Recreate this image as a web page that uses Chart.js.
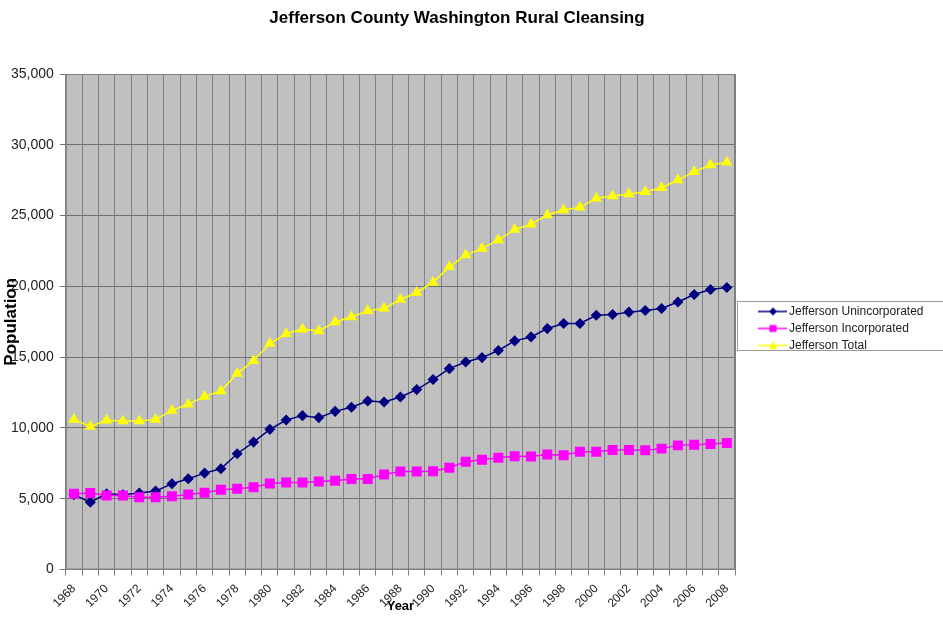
<!DOCTYPE html>
<html>
<head>
<meta charset="utf-8">
<title>Jefferson County Washington Rural Cleansing</title>
<script src="https://cdn.jsdelivr.net/npm/chart.js@4.4.1/dist/chart.umd.min.js"></script>
<style>
  html, body { margin: 0; padding: 0; background: #fff; }
  #wrap { width: 943px; height: 620px; }
</style>
</head>
<body>
<div id="wrap"><canvas id="chart" width="943" height="620"></canvas></div>
<script>
// data
var years = ['1968', '1969', '1970', '1971', '1972', '1973', '1974', '1975', '1976', '1977',
    '1978', '1979', '1980', '1981', '1982', '1983', '1984', '1985', '1986', '1987',
    '1988', '1989', '1990', '1991', '1992', '1993', '1994', '1995', '1996', '1997',
    '1998', '1999', '2000', '2001', '2002', '2003', '2004', '2005', '2006', '2007', '2008'];

var unincorporated = [5280, 4760, 5350, 5280, 5400, 5540, 6060, 6410, 6810, 7120,
    8180, 9000, 9900, 10560, 10870, 10730, 11170, 11460, 11900, 11830,
    12190, 12710, 13420, 14190, 14660, 14970, 15470, 16150, 16430, 17020,
    17380, 17380, 17960, 18010, 18180, 18300, 18440, 18900, 19430, 19780, 19920];

var incorporated = [5350, 5400, 5230, 5230, 5110, 5110, 5180, 5300, 5420, 5630,
    5700, 5820, 6080, 6140, 6150, 6220, 6270, 6390, 6390, 6720,
    6930, 6930, 6950, 7190, 7620, 7760, 7900, 8010, 7990, 8130,
    8080, 8320, 8320, 8440, 8440, 8420, 8540, 8770, 8820, 8860, 8930];

var total = [10590, 10110, 10540, 10490, 10490, 10590, 11240, 11670, 12230, 12610,
    13840, 14750, 15960, 16660, 16980, 16850, 17490, 17840, 18270, 18460,
    19070, 19570, 20280, 21380, 22210, 22680, 23270, 24020, 24380, 25040,
    25390, 25580, 26220, 26380, 26520, 26680, 26970, 27510, 28100, 28570, 28760];

var seriesNames = ['Jefferson Unincorporated', 'Jefferson Incorporated', 'Jefferson Total'];
var yTicks = [0, 5000, 10000, 15000, 20000, 25000, 30000, 35000];

var FONT = 'Arial, "Liberation Sans", sans-serif';

// little line+marker pictures for the legend, excel style
// (blank on the left so the line sits where excel puts it)
function legendMark(color, shape) {
    var c = document.createElement('canvas');
    c.width = 51; c.height = 12;
    var g = c.getContext('2d');
    g.strokeStyle = color;
    g.lineWidth = 1.5;
    g.beginPath(); g.moveTo(22, 6); g.lineTo(51, 6); g.stroke();
    g.fillStyle = color;
    g.beginPath();
    if (shape === 'diamond') {
        g.moveTo(37, 2); g.lineTo(41, 6); g.lineTo(37, 10); g.lineTo(33, 6);
    } else if (shape === 'square') {
        g.rect(33.5, 2.5, 7, 7);
    } else {
        g.moveTo(37, 2); g.lineTo(41, 9.5); g.lineTo(33, 9.5);
    }
    g.closePath(); g.fill();
    return c;
}

var marks = [legendMark('#000080', 'diamond'), legendMark('#ff00ff', 'square'), legendMark('#ffff00', 'triangle')];

var plotArea = {
    id: 'plotArea',
    beforeInit: function (chart) {
        // make the legend a fixed width strip on the right
        var fit = chart.legend.fit;
        chart.legend.fit = function () {
            fit.bind(chart.legend)();
            this.width = 208;
        };
        // excel put the title a bit left of the page centre
        var tdraw = chart.titleBlock.draw;
        chart.titleBlock.draw = function () {
            chart.ctx.save();
            chart.ctx.translate(-17, 0);
            tdraw.apply(this, arguments);
            chart.ctx.restore();
        };
    },
    beforeDraw: function (chart) {
        var a = chart.chartArea, ctx = chart.ctx;
        ctx.save();
        ctx.fillStyle = '#fff';
        ctx.fillRect(0, 0, chart.width, chart.height);
        ctx.fillStyle = '#c0c0c0';
        ctx.fillRect(a.left, a.top, a.right - a.left, a.bottom - a.top);
        ctx.restore();
    },
    afterDatasetsDraw: function (chart) {
        var a = chart.chartArea, ctx = chart.ctx;
        ctx.save();
        ctx.strokeStyle = '#808080';
        ctx.lineWidth = 1;
        ctx.strokeRect(a.left + 0.5, a.top + 0.5, a.right - a.left - 1, a.bottom - a.top - 1);
        // legend frame
        var hb = chart.legend.legendHitBoxes;
        if (hb && hb.length) {
            var top = hb[0].top - 5;
            var last = hb[hb.length - 1];
            var bottom = last.top + last.height - 2;
            ctx.strokeStyle = '#9a9a9a';
            ctx.strokeRect(chart.legend.left + 2.5, Math.round(top) + 0.5, chart.width, Math.round(bottom - top));
        }
        ctx.restore();
    }
};

new Chart(document.getElementById('chart'), {
    type: 'line',
    data: {
        labels: years,
        datasets: [{
            label: seriesNames[0],
            data: unincorporated,
            borderColor: '#000080',
            backgroundColor: '#000080',
            borderWidth: 1.5,
            pointStyle: 'rectRot',
            pointRadius: 4.5,
            order: 3
        }, {
            label: seriesNames[1],
            data: incorporated,
            borderColor: '#ff00ff',
            backgroundColor: '#ff00ff',
            borderWidth: 1.5,
            pointStyle: 'rect',
            pointRadius: 6,
            order: 2
        }, {
            label: seriesNames[2],
            data: total,
            borderColor: '#ffff00',
            backgroundColor: '#ffff00',
            borderWidth: 1.5,
            pointStyle: 'triangle',
            pointRadius: 5,
            order: 1
        }]
    },
    options: {
        responsive: false,
        animation: false,
        layout: { padding: { left: 5, right: 0, top: 0, bottom: 0 } },
        elements: { line: { tension: 0 } },
        plugins: {
            title: {
                display: true,
                text: 'Jefferson County Washington Rural Cleansing',
                color: '#000',
                font: { family: FONT, size: 17, weight: 'bold' },
                padding: { top: 8, bottom: 45.6 }
            },
            legend: {
                position: 'right',
                title: { display: true, text: ' ', font: { family: FONT, size: 10 }, padding: { top: 0, bottom: 25 } },
                labels: {
                    usePointStyle: true,
                    pointStyleWidth: 43,
                    padding: 5,
                    color: '#222',
                    font: { family: FONT, size: 12 },
                    generateLabels: function (chart) {
                        return chart.data.datasets.map(function (ds, i) {
                            return {
                                text: ds.label,
                                pointStyle: marks[i],
                                fillStyle: 'transparent',
                                strokeStyle: 'transparent',
                                lineWidth: 0,
                                fontColor: '#222',
                                hidden: false,
                                datasetIndex: i
                            };
                        });
                    }
                }
            },
            tooltip: { enabled: false }
        },
        scales: {
            x: {
                offset: true,
                grid: { offset: true, color: '#808080', tickLength: 6 },
                border: { color: '#808080' },
                ticks: {
                    autoSkip: false,
                    maxRotation: 45,
                    minRotation: 45,
                    padding: 6,
                    color: '#222',
                    font: { family: FONT, size: 12 },
                    callback: function (v, i) { return i % 2 === 0 ? years[i] : ''; }
                },
                title: {
                    display: true,
                    text: 'Year',
                    color: '#000',
                    font: { family: FONT, size: 13, weight: 'bold' },
                    padding: { top: -18.2, bottom: 6 }
                }
            },
            y: {
                min: yTicks[0],
                max: yTicks[yTicks.length - 1],
                grid: { color: '#707070', tickLength: 6 },
                border: { color: '#808080' },
                afterBuildTicks: function (axis) {
                    axis.ticks = yTicks.map(function (v) { return { value: v }; });
                },
                ticks: {
                    padding: 6,
                    color: '#222',
                    font: { family: FONT, size: 14 },
                    callback: function (v) { return v.toLocaleString('en-US'); }
                },
                title: {
                    display: true,
                    text: 'Population',
                    color: '#000',
                    font: { family: FONT, size: 17, weight: 'bold' },
                    padding: { top: -3.7, bottom: -16.7 }
                }
            }
        }
    },
    plugins: [plotArea]
});
</script>
</body>
</html>
